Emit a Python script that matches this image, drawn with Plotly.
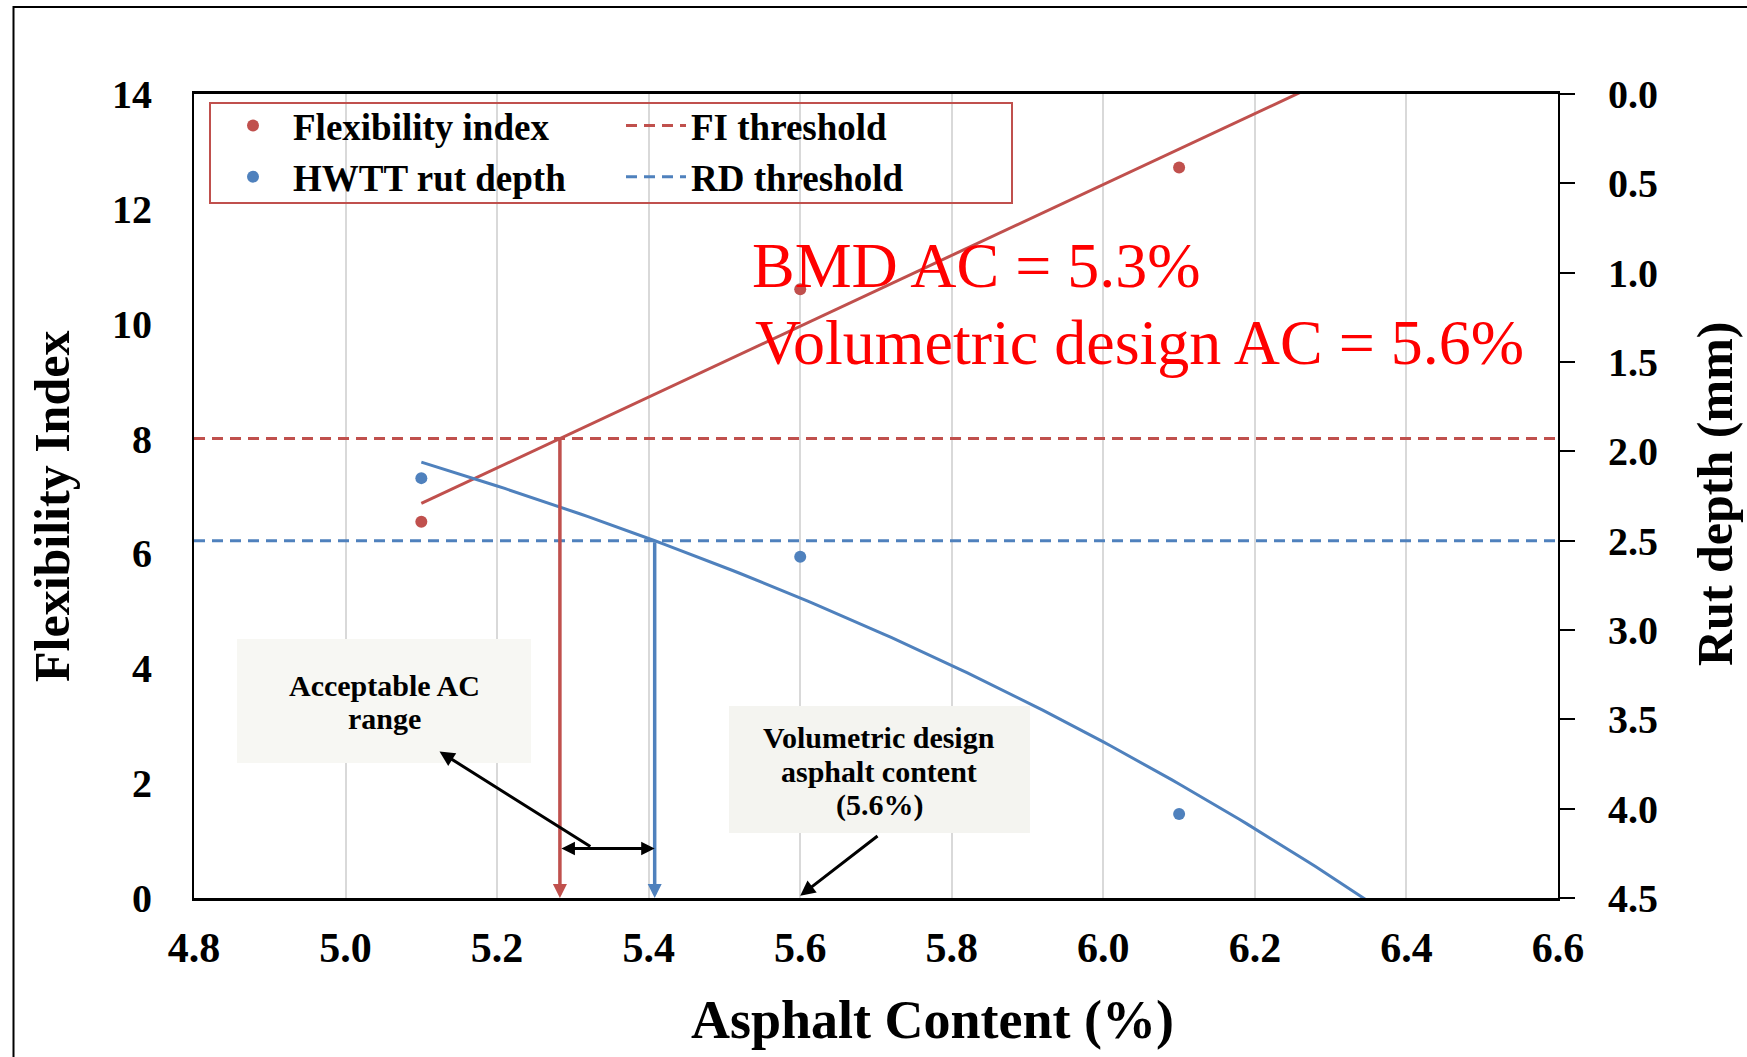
import numpy as np
import plotly.graph_objects as go

# Asphalt content levels of the trial mixes (%)
asphalt_content = [5.1, 5.6, 6.1]
# I-FIT flexibility index measured at each asphalt content
flexibility_index = [6.55, 10.6, 12.72]
# Hamburg wheel tracking test rut depth (mm)
rut_depth = [2.15, 2.59, 4.03]

# Design criteria
fi_threshold = 8.0
rd_threshold = 2.5
volumetric_ac = 5.6
bmd_ac = 5.3

x_tick_values = [4.8, 5.0, 5.2, 5.4, 5.6, 5.8, 6.0, 6.2, 6.4, 6.6]
fi_tick_values = [0, 2, 4, 6, 8, 10, 12, 14]
rd_tick_values = [0.0, 0.5, 1.0, 1.5, 2.0, 2.5, 3.0, 3.5, 4.0, 4.5]

RED = "#C0504D"
BLUE = "#4F81BD"
SERIF = "Liberation Serif"

# Trendlines: linear for FI, exponential for rut depth (forecast forward, clipped by axes)
fi_slope, fi_icpt = np.polyfit(asphalt_content, flexibility_index, 1)
rd_rate, rd_lncoef = np.polyfit(asphalt_content, np.log(rut_depth), 1)
trend_x = np.linspace(asphalt_content[0], 6.45, 136)
fi_trend = fi_icpt + fi_slope * trend_x
rd_trend = np.exp(rd_lncoef + rd_rate * trend_x)

# Asphalt contents where each trendline meets its threshold
ac_at_fi = (fi_threshold - fi_icpt) / fi_slope
ac_at_rd = (np.log(rd_threshold) - rd_lncoef) / rd_rate

# Canvas and plot-area geometry (pixels)
W, H = 1747, 1057
L, R, T, B = 194, 1558, 94, 898


def px(xp):
    return (xp - L) / (R - L)


def py(yp):
    return (B - yp) / (B - T)


def bold(size, color="black"):
    return dict(family=SERIF, size=size, color=color, weight="bold")


def label(x, y, text, size, **kw):
    """Free text placed by pixel position, centred on (x, y)."""
    d = dict(x=px(x), y=py(y), xref="paper", yref="paper", xanchor="center",
             yanchor="middle", text=text, showarrow=False, font=bold(size))
    d.update(kw)
    return d


def pointer(x, y, ax, ay, color="black", width=3, size=1.0, yref="y", **kw):
    """Arrow in data coordinates from (ax, ay) to the tip at (x, y)."""
    d = dict(x=x, y=y, ax=ax, ay=ay, xref="x", yref=yref, axref="x", ayref=yref,
             text="", showarrow=True, arrowhead=2, arrowsize=size, arrowwidth=width,
             arrowcolor=color, standoff=0, startstandoff=0)
    d.update(kw)
    return d


fig = go.Figure()

fig.add_trace(go.Scatter(
    x=asphalt_content, y=flexibility_index, mode="markers", name="Flexibility index",
    marker=dict(color=RED, size=12), legend="legend"))
fig.add_trace(go.Scatter(
    x=[x_tick_values[0], x_tick_values[-1]], y=[fi_threshold, fi_threshold], mode="lines",
    name="FI threshold", line=dict(color=RED, width=3, dash="11px,7px"), legend="legend2"))
fig.add_trace(go.Scatter(
    x=asphalt_content, y=rut_depth, mode="markers", name="HWTT rut depth", yaxis="y2",
    marker=dict(color=BLUE, size=12), legend="legend"))
fig.add_trace(go.Scatter(
    x=[x_tick_values[0], x_tick_values[-1]], y=[rd_threshold, rd_threshold], mode="lines",
    name="RD threshold", yaxis="y2", line=dict(color=BLUE, width=3, dash="11px,7px"),
    legend="legend2"))
fig.add_trace(go.Scatter(
    x=trend_x, y=fi_trend, mode="lines", line=dict(color=RED, width=3), showlegend=False))
fig.add_trace(go.Scatter(
    x=trend_x, y=rd_trend, mode="lines", yaxis="y2", line=dict(color=BLUE, width=3),
    showlegend=False))

annotations = [
    # Drop lines from the threshold crossings down to the x axis
    pointer(ac_at_fi, 0, ac_at_fi, fi_threshold, color=RED, width=3.5, size=0.8),
    pointer(ac_at_rd, rd_tick_values[-1], ac_at_rd, rd_threshold, color=BLUE, width=3.5,
            size=0.8, yref="y2"),
    # Acceptable range span
    pointer(ac_at_rd, 0.86, ac_at_fi, 0.86, size=0.9, arrowside="end+start"),
    # Callout pointers
    pointer(5.124, 2.55, 5.325, 0.88),
    pointer(volumetric_ac, 0.04, 5.704, 1.10),
    # Callout text
    label(384, 685, "Acceptable AC", 30),
    label(384, 718, "range", 30),
    label(879, 737, "Volumetric design", 30),
    label(879, 771, "asphalt content", 30),
    label(879, 805, f"({volumetric_ac}%)", 30),
    # Design summary text
    label(750, 265, f"BMD AC = {bmd_ac}%", 64, xanchor="left",
          font=dict(family=SERIF, size=64, color="#FF0000")),
    label(753, 342, f"Volumetric design AC = {volumetric_ac}%", 64, xanchor="left",
          font=dict(family=SERIF, size=64, color="#FF0000")),
    # Axis titles
    label(932, 1020, "Asphalt Content (%)", 54),
    label(52, 507, "Flexibility Index", 50, textangle=-90),
    label(1715, 494, "Rut depth (mm)", 50, textangle=-90),
]

shapes = [
    # callout boxes
    dict(type="rect", xref="paper", yref="paper", layer="above", x0=px(237), x1=px(531),
         y0=py(763), y1=py(639), line=dict(width=0), fillcolor="#F7F7F3"),
    dict(type="rect", xref="paper", yref="paper", layer="above", x0=px(729), x1=px(1030),
         y0=py(833), y1=py(706), line=dict(width=0), fillcolor="#F4F4F0"),
    # legend frame
    dict(type="rect", xref="paper", yref="paper", x0=px(210), x1=px(1012),
         y0=py(203), y1=py(103), line=dict(color=RED, width=2), fillcolor="rgba(0,0,0,0)"),
    # outer figure frame
    dict(type="rect", xref="paper", yref="paper", x0=px(13.5), x1=px(1770),
         y0=py(1080), y1=py(7), line=dict(color="black", width=2), fillcolor="rgba(0,0,0,0)"),
]

fig.update_layout(
    width=W, height=H, autosize=False,
    margin=dict(l=L, r=W - R, t=T, b=H - B, pad=0),
    template="none",
    paper_bgcolor="white", plot_bgcolor="white",
    xaxis=dict(
        range=[x_tick_values[0], x_tick_values[-1]], tickvals=x_tick_values, tickformat=".1f",
        showgrid=True, gridcolor="#D9D9D9", gridwidth=1.5, zeroline=False,
        showline=True, linecolor="black", linewidth=2.5, mirror=True, ticks="",
        tickfont=bold(42), ticklabelstandoff=11, automargin=False),
    yaxis=dict(
        range=[fi_tick_values[0], fi_tick_values[-1]], tickvals=fi_tick_values,
        showgrid=False, zeroline=False, showline=True, linecolor="black", linewidth=2,
        ticks="", tickfont=bold(40), ticklabelstandoff=32, automargin=False),
    yaxis2=dict(
        range=[rd_tick_values[-1], rd_tick_values[0]], tickvals=rd_tick_values,
        tickformat=".1f", overlaying="y", side="right", showgrid=False, zeroline=False,
        showline=True, linecolor="black", linewidth=2, ticks="outside", ticklen=15,
        tickwidth=2, tickcolor="black", tickfont=bold(40), ticklabelstandoff=25,
        automargin=False),
    legend=dict(
        x=px(213), y=py(95), xanchor="left", yanchor="top", orientation="v",
        font=bold(37), itemwidth=70, bgcolor="rgba(0,0,0,0)", borderwidth=0),
    legend2=dict(
        x=px(621), y=py(95), xanchor="left", yanchor="top", orientation="v",
        font=bold(37), itemwidth=60, bgcolor="rgba(0,0,0,0)", borderwidth=0),
    annotations=annotations,
    shapes=shapes,
    showlegend=True,
)

fig.write_html("out.html")
